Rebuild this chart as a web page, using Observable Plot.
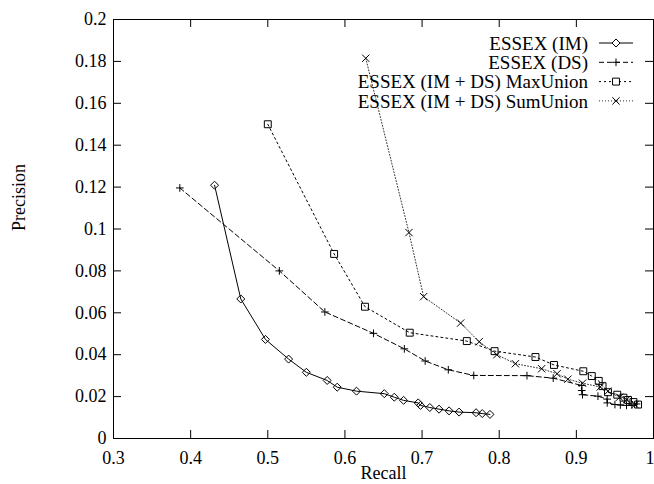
<!DOCTYPE html>
<html>
<head>
<meta charset="utf-8">
<script src="https://cdn.jsdelivr.net/npm/d3@7"></script>
<script src="https://cdn.jsdelivr.net/npm/@observablehq/plot@0.6"></script>
<style>
  body { margin: 0; background: #fff; }
  #chart { width: 654px; height: 484px; }
</style>
</head>
<body>
<div id="chart"></div>
<script>
// ---- Data ----
const seriesNames = [
  "ESSEX (IM)",
  "ESSEX (DS)",
  "ESSEX (IM + DS) MaxUnion",
  "ESSEX (IM + DS) SumUnion"
];

const imRecall    = [0.431, 0.465, 0.497, 0.527, 0.550, 0.577, 0.590, 0.615, 0.651, 0.664, 0.676, 0.695, 0.698, 0.710, 0.722, 0.735, 0.748, 0.770, 0.778, 0.788];
const imPrecision = [0.1209, 0.0666, 0.0473, 0.0379, 0.0316, 0.0277, 0.0245, 0.0226, 0.0214, 0.0197, 0.0182, 0.0170, 0.0158, 0.0148, 0.0140, 0.0132, 0.0126, 0.0123, 0.0119, 0.0115];

const dsRecall    = [0.386, 0.515, 0.574, 0.637, 0.677, 0.704, 0.734, 0.767, 0.836, 0.870, 0.907, 0.907, 0.908, 0.928, 0.940, 0.940, 0.950, 0.957, 0.965, 0.972, 0.978];
const dsPrecision = [0.1196, 0.0800, 0.0604, 0.0502, 0.0428, 0.0370, 0.0328, 0.0301, 0.0300, 0.0288, 0.0253, 0.0229, 0.0209, 0.0202, 0.0188, 0.0170, 0.0162, 0.0160, 0.0158, 0.0160, 0.0165];

const maxRecall    = [0.500, 0.586, 0.626, 0.684, 0.758, 0.794, 0.847, 0.871, 0.909, 0.920, 0.929, 0.934, 0.941, 0.953, 0.961, 0.967, 0.974, 0.980];
const maxPrecision = [0.1500, 0.0881, 0.0629, 0.0505, 0.0465, 0.0417, 0.0389, 0.0351, 0.0321, 0.0298, 0.0275, 0.0250, 0.0221, 0.0209, 0.0195, 0.0184, 0.0174, 0.0162];

const sumRecall    = [0.627, 0.683, 0.702, 0.750, 0.774, 0.797, 0.821, 0.855, 0.875, 0.889, 0.908, 0.931, 0.941, 0.956, 0.965, 0.976];
const sumPrecision = [0.1815, 0.0983, 0.0677, 0.0551, 0.0462, 0.0400, 0.0357, 0.0333, 0.0309, 0.0283, 0.0264, 0.0246, 0.0226, 0.0197, 0.0185, 0.0162];

const xTicks = [0.3, 0.4, 0.5, 0.6, 0.7, 0.8, 0.9, 1];
const xTickLabels = ["0.3", "0.4", "0.5", "0.6", "0.7", "0.8", "0.9", "1"];
const yTicks = [0, 0.02, 0.04, 0.06, 0.08, 0.1, 0.12, 0.14, 0.16, 0.18, 0.2];
const yTickLabels = ["0", "0.02", "0.04", "0.06", "0.08", "0.1", "0.12", "0.14", "0.16", "0.18", "0.2"];

const xLabel = "Recall";
const yLabel = "Precision";

// ---- Build table ----
const seriesData = [
  [imRecall, imPrecision],
  [dsRecall, dsPrecision],
  [maxRecall, maxPrecision],
  [sumRecall, sumPrecision]
];
const rows = [];
seriesData.forEach(([rx, py], s) => {
  rx.forEach((r, i) => rows.push({series: seriesNames[s], recall: r, precision: py[i]}));
});

// ---- Styles ----
const seriesStyle = [
  {dash: null,  symbol: "diamond2", d3sym: d3.symbolDiamond2, r: 3.6, stroke: "#000", width: 1},
  {dash: "5,3", symbol: "plus",     d3sym: d3.symbolPlus,     r: 2.6, stroke: "#000", width: 1},
  {dash: "2,3", symbol: "square2",  d3sym: d3.symbolSquare2,  r: 4.4, stroke: "#000", width: 1},
  {dash: "1,2", symbol: "times",    d3sym: d3.symbolTimes,    r: 3.4, stroke: "#333", width: 1}
];

const W = 654, H = 484;
const mL = 113, mR = 1, mT = 19, mB = 46;
const fw = W - mL - mR, fh = H - mT - mB;
const tickLen = 8;
const font = "'Liberation Serif', 'Times New Roman', serif";
const fs = 18;
const legendFs = 19;

const lastX = xTicks[xTicks.length - 1];
const innerXTicks = xTicks.slice(0, -1);

const marks = [];
seriesNames.forEach((name, s) => {
  const st = seriesStyle[s];
  const d = rows.filter(r => r.series === name);
  marks.push(Plot.line(d, {x: "recall", y: "precision", stroke: st.stroke, strokeWidth: st.width, strokeDasharray: st.dash}));
  marks.push(Plot.dot(d, {x: "recall", y: "precision", symbol: st.symbol, r: st.r, stroke: "#000", strokeWidth: 1, fill: "none"}));
});

const chart = Plot.plot({
  width: W,
  height: H,
  marginLeft: mL,
  marginRight: mR,
  marginTop: mT,
  marginBottom: mB,
  style: {fontFamily: font, fontSize: fs + "px", background: "#fff", color: "#000"},
  x: {domain: [0.3, 1]},
  y: {domain: [0, 0.2]},
  marks: [
    // inward ticks on all four sides (gnuplot style)
    Plot.tickX(xTicks, {x: d => d, insetTop: fh - tickLen, stroke: "#000"}),
    Plot.tickX(xTicks, {x: d => d, insetBottom: fh - tickLen, stroke: "#000"}),
    Plot.tickY(yTicks, {y: d => d, insetRight: fw - tickLen, stroke: "#000"}),
    Plot.tickY(yTicks, {y: d => d, insetLeft: fw - tickLen, stroke: "#000"}),
    Plot.axisX({ticks: innerXTicks, tickSize: 0, tickPadding: 13, fontSize: fs, label: null,
      tickFormat: d => xTickLabels[xTicks.indexOf(d)]}),
    // last x tick label kept inside the picture (flush with the right edge)
    Plot.text([lastX], {x: d => d, text: d => xTickLabels[xTicks.indexOf(d)], frameAnchor: "bottom",
      dy: 13, dx: 1, lineAnchor: "top", textAnchor: "end", fontSize: fs}),
    Plot.axisY({ticks: yTicks, tickSize: 0, tickPadding: 7, fontSize: fs, label: null,
      tickFormat: d => yTickLabels[yTicks.indexOf(d)]}),
    Plot.text([xLabel], {text: d => d, frameAnchor: "bottom", dy: 35, fontSize: fs, lineAnchor: "middle"}),
    Plot.text([yLabel], {text: d => d, frameAnchor: "left", dx: -94, dy: 2, rotate: -90, fontSize: fs}),
    ...marks,
    Plot.frame({stroke: "#000", strokeWidth: 1})
  ]
});

// ---- Legend (inside plot, top right, gnuplot style) ----
const svg = d3.select(chart);
const lg = svg.append("g").attr("font-family", font).attr("font-size", legendFs);
const textRight = 588, sx1 = 599, sx2 = 633, sxm = 616, ly0 = 43, lstep = 19.3;
seriesNames.forEach((name, s) => {
  const st = seriesStyle[s];
  const y = ly0 + s * lstep;
  lg.append("text").attr("x", textRight).attr("y", y).attr("dy", "0.35em")
    .attr("text-anchor", "end").attr("fill", "#000").text(name);
  lg.append("line").attr("x1", sx1).attr("x2", sx2).attr("y1", y).attr("y2", y)
    .attr("stroke", st.stroke).attr("stroke-width", st.width)
    .attr("stroke-dasharray", st.dash);
  lg.append("path").attr("transform", `translate(${sxm},${y})`)
    .attr("d", d3.symbol(st.d3sym, st.r * st.r * Math.PI)())
    .attr("fill", "#fff").attr("stroke", "#000");
});

document.getElementById("chart").appendChild(chart);
</script>
</body>
</html>
